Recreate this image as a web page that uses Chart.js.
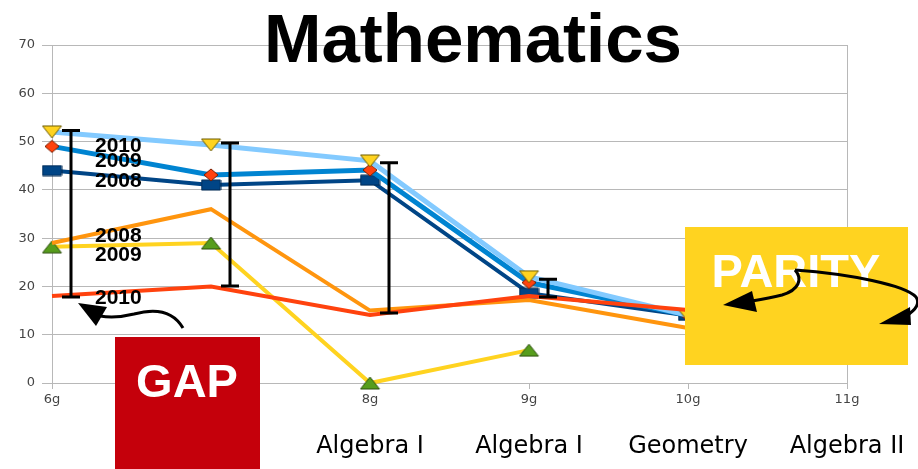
<!DOCTYPE html>
<html>
<head>
<meta charset="utf-8">
<script src="https://cdn.jsdelivr.net/npm/chart.js@4"></script>
<style>
  html, body { margin: 0; padding: 0; background: #ffffff; }
  #wrap { position: relative; width: 918px; height: 469px; }
</style>
</head>
<body>
<div id="wrap"><canvas id="c" width="918" height="469"></canvas></div>
<script>
// ---- data ----
const categories = ['6g', '7g', '8g', '9g', '10g', '11g'];
const courses = ['', '', 'Algebra I', 'Algebra I', 'Geometry', 'Algebra II'];

const high2010 = [52, 49.3, 46, 22, 14, null];
const high2009 = [49, 43.1, 44.1, 20.8, 14, null];
const high2008 = [44, 41, 42, 18.6, 14, null];
const low2008 = [29, 36, 15, 17.2, 11.4, null];
const low2009 = [28.2, 29, 0, 6.8, null, null];
const low2010 = [18, 20, 14.1, 18, 15.1, null];

const gapLow = [17.8, 20.1, 14.5, 17.8];
const gapHigh = [52.3, 49.7, 45.6, 21.5];

const yearLabels = ['2010', '2009', '2008', '2008', '2009', '2010'];
const yearLabelValues = [47.8, 44.7, 40.6, 29.2, 25.3, 16.4];

const titleText = 'Mathematics';
const gapText = 'GAP';
const parityText = 'PARITY';

// ---- marker images ----
function marker(kind, w, h, fill, stroke) {
  const c = document.createElement('canvas');
  c.width = w + 2; c.height = h + 2;
  const g = c.getContext('2d');
  g.translate(1, 1);
  g.beginPath();
  if (kind === 'rect') {
    g.rect(0, 0, w, h);
  } else if (kind === 'down') {
    g.moveTo(0, 0); g.lineTo(w, 0); g.lineTo(w / 2, h); g.closePath();
  } else if (kind === 'up') {
    g.moveTo(w / 2, 0); g.lineTo(w, h); g.lineTo(0, h); g.closePath();
  } else if (kind === 'diamond') {
    g.moveTo(w / 2, 0); g.lineTo(w, h / 2); g.lineTo(w / 2, h); g.lineTo(0, h / 2); g.closePath();
  }
  g.fillStyle = fill; g.fill();
  g.lineWidth = 1; g.strokeStyle = stroke; g.stroke();
  return c;
}
const mDown = marker('down', 19, 12, '#ffd320', '#6b5a00');
const mDiamond = marker('diamond', 14, 12, '#ff420e', '#7a1e00');
const mRect = marker('rect', 19, 10, '#004586', '#002850');
const mUp = marker('up', 19, 12, '#579d1c', '#2c4f0d');

const GRID = '#b8b8b8';

function ds(data, color, width, style) {
  return {
    data: data,
    borderColor: color,
    backgroundColor: color,
    borderWidth: width,
    tension: 0,
    fill: false,
    clip: false,
    spanGaps: false,
    pointStyle: style || 'circle',
    pointRadius: style ? 8 : 0,
    pointHoverRadius: style ? 8 : 0
  };
}

function noSidePadding(s) {
  s.paddingLeft = 0;
  s.paddingRight = 0;
}

const annotations = {
  id: 'annotations',
  afterDraw(chart) {
    const ctx = chart.ctx;
    const x = chart.scales.x, y = chart.scales.y;
    ctx.save();

    // gap range bars
    ctx.strokeStyle = '#000';
    ctx.lineWidth = 3;
    ctx.lineCap = 'butt';
    for (let i = 0; i < gapLow.length; i++) {
      const px = Math.round(x.getPixelForValue(i)) + 19;
      const yt = y.getPixelForValue(gapHigh[i]);
      const yb = y.getPixelForValue(gapLow[i]);
      ctx.beginPath();
      ctx.moveTo(px, yt); ctx.lineTo(px, yb);
      ctx.moveTo(px - 9, yt); ctx.lineTo(px + 9, yt);
      ctx.moveTo(px - 9, yb); ctx.lineTo(px + 9, yb);
      ctx.stroke();
    }

    // year labels
    ctx.fillStyle = '#000';
    ctx.font = 'bold 21px "Liberation Sans", Arial, sans-serif';
    ctx.textAlign = 'left';
    ctx.textBaseline = 'alphabetic';
    const lx = x.getPixelForValue(0) + 43;
    for (let i = 0; i < yearLabels.length; i++) {
      ctx.fillText(yearLabels[i], lx, y.getPixelForValue(yearLabelValues[i]));
    }

    // GAP arrow
    ctx.lineWidth = 3;
    ctx.strokeStyle = '#000';
    ctx.beginPath();
    ctx.moveTo(183, 328);
    ctx.bezierCurveTo(172, 309, 152, 309, 134, 314);
    ctx.bezierCurveTo(122, 317, 112, 318, 100, 316);
    ctx.stroke();
    ctx.beginPath();
    ctx.moveTo(78, 303); ctx.lineTo(107, 307); ctx.lineTo(96, 326); ctx.closePath();
    ctx.fill();

    // GAP box
    ctx.fillStyle = '#c5000b';
    ctx.fillRect(115, 337, 145, 132);
    ctx.fillStyle = '#ffffff';
    ctx.font = 'bold 47px "Liberation Sans", Arial, sans-serif';
    ctx.textAlign = 'center';
    ctx.fillText(gapText, 187, 397);

    // PARITY box
    ctx.fillStyle = '#ffd320';
    ctx.fillRect(685, 227, 223, 138);
    ctx.fillStyle = '#ffffff';
    ctx.fillText(parityText, 796, 287);

    // PARITY arrows
    ctx.strokeStyle = '#000';
    ctx.fillStyle = '#000';
    ctx.lineWidth = 3;
    ctx.beginPath();
    ctx.moveTo(795, 270);
    ctx.bezierCurveTo(803, 279, 799, 290, 782, 295);
    ctx.quadraticCurveTo(770, 298, 752, 301);
    ctx.stroke();
    ctx.beginPath();
    ctx.moveTo(723, 305); ctx.lineTo(752, 291); ctx.lineTo(757, 312); ctx.closePath();
    ctx.fill();

    ctx.beginPath();
    ctx.moveTo(795, 270);
    ctx.bezierCurveTo(850, 274, 905, 285, 916, 297);
    ctx.quadraticCurveTo(922, 306, 906, 316);
    ctx.stroke();
    ctx.beginPath();
    ctx.moveTo(879, 324); ctx.lineTo(910, 307); ctx.lineTo(911, 325); ctx.closePath();
    ctx.fill();

    // title
    ctx.fillStyle = '#000';
    ctx.font = 'bold 69px "Liberation Sans", Arial, sans-serif';
    ctx.textAlign = 'center';
    ctx.fillText(titleText, 473, 62);

    ctx.restore();
  }
};

new Chart(document.getElementById('c'), {
  type: 'line',
  data: {
    labels: categories,
    datasets: [
      ds(low2010, '#ff420e', 4),
      ds(low2008, '#ff950e', 4),
      ds(low2009, '#ffd320', 4, mUp),
      ds(high2010, '#83caff', 5, mDown),
      ds(high2009, '#0084d1', 5, mDiamond),
      ds(high2008, '#004586', 4, mRect)
    ]
  },
  options: {
    responsive: false,
    animation: false,
    devicePixelRatio: 1,
    layout: { padding: { top: 45, right: 71, left: 0, bottom: 0 } },
    plugins: { legend: { display: false }, title: { display: false }, tooltip: { enabled: false } },
    scales: {
      y: {
        min: 0, max: 70,
        afterFit(s) { s.width = 52; s.paddingTop = 0; s.paddingBottom = 0; },
        ticks: { stepSize: 10, padding: 7, color: '#444', font: { family: '"DejaVu Sans", sans-serif', size: 13 } },
        grid: { color: GRID, tickLength: 10, tickColor: GRID },
        border: { color: GRID }
      },
      x: {
        weight: 0,
        afterFit(s) { s.height = 30; noSidePadding(s); },
        ticks: { padding: 3, color: '#444', maxRotation: 0, autoSkip: false, font: { family: '"DejaVu Sans", sans-serif', size: 13 } },
        grid: {
          color: (c) => (c.index === categories.length - 1 ? GRID : 'rgba(0,0,0,0)'),
          tickColor: GRID, tickLength: 6
        },
        border: { color: GRID }
      },
      x2: {
        type: 'category',
        labels: courses,
        position: 'bottom',
        weight: 1,
        afterFit(s) { s.height = 56; noSidePadding(s); },
        grid: { display: false, drawTicks: false },
        border: { display: false },
        ticks: { padding: 19, color: '#000', maxRotation: 0, autoSkip: false, font: { family: '"DejaVu Sans", sans-serif', size: 24 } }
      }
    }
  },
  plugins: [annotations]
});
</script>
</body>
</html>
